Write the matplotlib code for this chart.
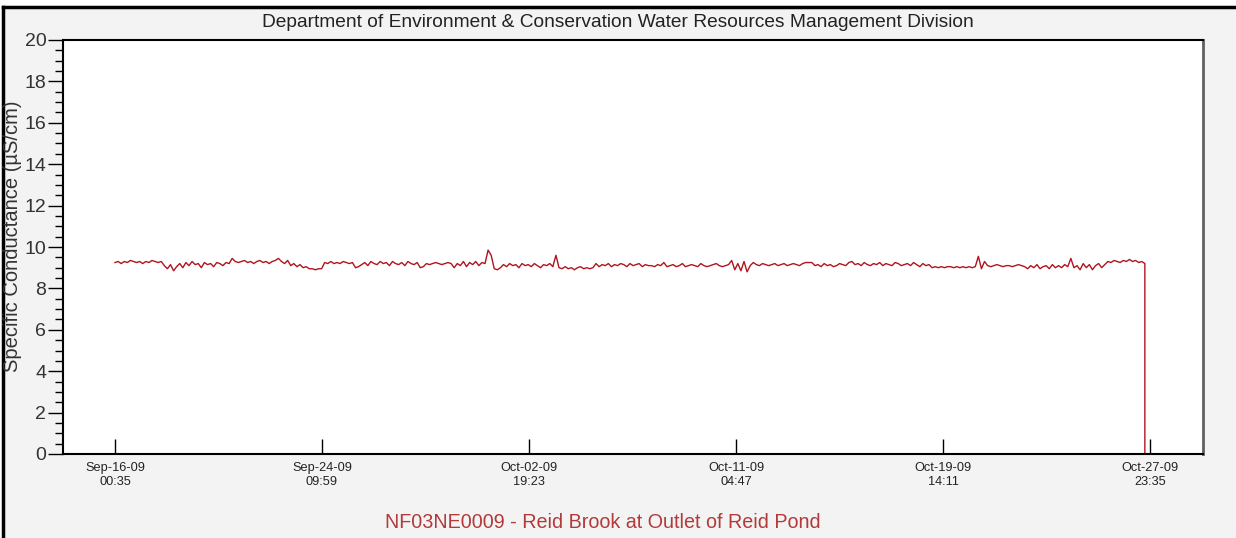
import datetime as dt
import matplotlib
matplotlib.use('Agg')
import matplotlib.pyplot as plt
from matplotlib.ticker import MultipleLocator
from matplotlib.patches import Rectangle
from matplotlib.lines import Line2D

plt.rcParams['font.family'] = ['Liberation Sans', 'DejaVu Sans']

title = 'Department of Environment & Conservation Water Resources Management Division'
station = 'NF03NE0009 - Reid Brook at Outlet of Reid Pond'
ylabel = 'Specific Conductance (µS/cm)'

start = dt.datetime(2009, 9, 16, 0, 35)
step_hours = 3

# specific conductance readings, every 3 hours from start
conductance = [
    9.25, 9.3, 9.2, 9.3, 9.25, 9.35, 9.3, 9.25, 9.3, 9.2, 9.3, 9.25, 9.35, 9.3, 9.25, 9.3,
    9.1, 8.95, 9.15, 8.85, 9.05,
    9.2, 9.0, 9.25, 9.1, 9.3, 9.15, 9.2, 9.0, 9.25,
    9.15, 9.2, 9.05, 9.25, 9.2, 9.1, 9.25, 9.2,
    9.45,
    9.3, 9.25, 9.3, 9.35, 9.25, 9.3, 9.2, 9.3, 9.35, 9.25, 9.3, 9.2, 9.3, 9.35,
    9.45,
    9.3, 9.2, 9.35, 9.1, 9.2, 9.05, 9.15, 9.0, 9.05,
    8.95, 8.95, 8.9, 8.95, 8.95,
    9.25, 9.2, 9.3, 9.2, 9.25, 9.2, 9.3, 9.25, 9.2, 9.25,
    9.0, 9.05,
    9.15, 9.25, 9.1, 9.3, 9.2, 9.15, 9.3, 9.2, 9.25, 9.1, 9.3, 9.2, 9.15, 9.25, 9.1, 9.3, 9.2, 9.15, 9.25,
    9.0, 9.05,
    9.2, 9.15, 9.2, 9.25, 9.2, 9.15, 9.2, 9.25, 9.2,
    9.0, 9.2, 9.1, 9.3, 9.05, 9.25, 9.15, 9.3, 9.1, 9.25, 9.2,
    9.85, 9.6, 8.95, 8.9,
    9.0, 9.15, 9.05, 9.2, 9.1, 9.15, 9.0, 9.2, 9.1, 9.15, 9.05, 9.2, 9.1, 9.0, 9.15, 9.1, 9.2, 9.05,
    9.6,
    9.0, 8.95, 9.05, 8.95, 9.0, 8.9, 9.0, 9.05, 8.95, 9.0, 8.95, 9.0,
    9.2,
    9.05, 9.15, 9.1, 9.2, 9.05, 9.15, 9.1, 9.2, 9.15, 9.05, 9.2, 9.1, 9.15, 9.2, 9.05, 9.15, 9.1,
    9.1, 9.05, 9.15, 9.1, 9.25, 9.05, 9.1, 9.15, 9.05, 9.1, 9.2, 9.05, 9.1, 9.15, 9.1, 9.05,
    9.2, 9.1, 9.05, 9.1, 9.15, 9.2, 9.1, 9.05, 9.1, 9.15,
    9.35, 8.9, 9.2, 8.85, 9.3, 8.8, 9.1, 9.25,
    9.15, 9.1, 9.2, 9.15, 9.1, 9.15, 9.2, 9.1, 9.15, 9.2, 9.1, 9.15, 9.2, 9.15, 9.1, 9.2,
    9.25, 9.25, 9.25,
    9.1, 9.15, 9.05, 9.2, 9.1, 9.15, 9.05, 9.1, 9.2, 9.15, 9.1, 9.25, 9.3,
    9.15, 9.2, 9.1, 9.25, 9.15, 9.1, 9.2, 9.15, 9.25, 9.1, 9.2, 9.15, 9.1, 9.25, 9.2, 9.1,
    9.15, 9.2, 9.1, 9.25, 9.15, 9.05, 9.2, 9.1, 9.15, 9.0,
    9.05, 9.0, 9.05, 9.0, 9.05, 9.05, 9.0, 9.05, 9.0, 9.05, 9.0, 9.05, 9.0, 9.05,
    9.55, 8.95, 9.3,
    9.1, 9.05, 9.1, 9.15, 9.1, 9.05, 9.1, 9.1, 9.05, 9.1, 9.15, 9.1, 9.05,
    8.95, 9.1, 9.0, 9.15, 8.95, 9.05, 9.1, 8.95, 9.15, 9.0, 9.1, 9.0, 9.15, 9.05,
    9.45,
    9.0, 9.1, 8.9, 9.2, 9.0, 9.15, 8.9, 9.1, 9.2, 9.0, 9.15,
    9.3, 9.25, 9.35, 9.3, 9.25, 9.35, 9.3, 9.4, 9.3, 9.35, 9.25, 9.3,
    9.2,
]
# sensor pulled out at the end of the record
drop_values = [4.5, 0.0]

tick_times = [
    dt.datetime(2009, 9, 16, 0, 35),
    dt.datetime(2009, 9, 24, 9, 59),
    dt.datetime(2009, 10, 2, 19, 23),
    dt.datetime(2009, 10, 11, 4, 47),
    dt.datetime(2009, 10, 19, 14, 11),
    dt.datetime(2009, 10, 27, 23, 35),
]

times = [start + dt.timedelta(hours=step_hours * i) for i in range(len(conductance))]
times = times + [times[-1]] * len(drop_values)
values = conductance + drop_values

W, H = 1236, 538
fig = plt.figure(figsize=(W / 100, H / 100), dpi=100, facecolor='white')

# grey panel with black border on top and left
fig.patches.append(Rectangle((4 / W, 0), 1, 1 - 7 / H, transform=fig.transFigure,
                             facecolor='#f3f3f3', edgecolor='none', lw=0, zorder=-10))
fig.lines.append(Line2D([3 / W, 1], [1 - 7 / H, 1 - 7 / H], transform=fig.transFigure,
                        color='black', lw=2.5))
fig.lines.append(Line2D([3 / W, 3 / W], [0, 1 - 7 / H], transform=fig.transFigure,
                        color='black', lw=2.5))

ax = fig.add_axes([63 / W, 1 - 454 / H, (1203 - 63) / W, (454 - 40) / H])
ax.set_facecolor('white')
ax.plot(times, values, color='#b0141e', lw=1.0)

ax.set_ylim(0, 20)
ax.yaxis.set_major_locator(MultipleLocator(2))
ax.yaxis.set_minor_locator(MultipleLocator(0.5))
ax.tick_params(axis='y', which='major', direction='out', length=11, width=1,
               labelsize=14, pad=1, labelcolor='#333333')
ax.tick_params(axis='y', which='minor', direction='out', length=6, width=1)

span = tick_times[1] - tick_times[0]
ax.set_xlim(tick_times[0] - span * (52 / 207), tick_times[0] + span * (1088 / 207))
ax.set_xticks(tick_times)
ax.set_xticklabels([t.strftime('%b-%d-%y\n%H:%M') for t in tick_times])
ax.tick_params(axis='x', direction='in', length=11, width=1, labelsize=9.2, pad=6,
               labelcolor='#222222')
ax.xaxis.set_minor_locator(plt.NullLocator())

for side in ['left', 'bottom', 'top']:
    ax.spines[side].set_linewidth(1.5)
    ax.spines[side].set_color('black')
ax.spines['right'].set_linewidth(2)
ax.spines['right'].set_color('#606060')

fig.text(0.5, 1 - 27 / H, title, ha='center', va='baseline', fontsize=13.8, color='#222222')
fig.text(13 / W, 1 - 236 / H, ylabel, ha='center', va='center', rotation=90,
         fontsize=14.5, color='#333333')
fig.text(603 / W, 1 - 523 / H, station, ha='center', va='center', fontsize=14.2,
         color='#b23a3a')

fig.savefig('out.png', dpi=100, facecolor=fig.get_facecolor())
